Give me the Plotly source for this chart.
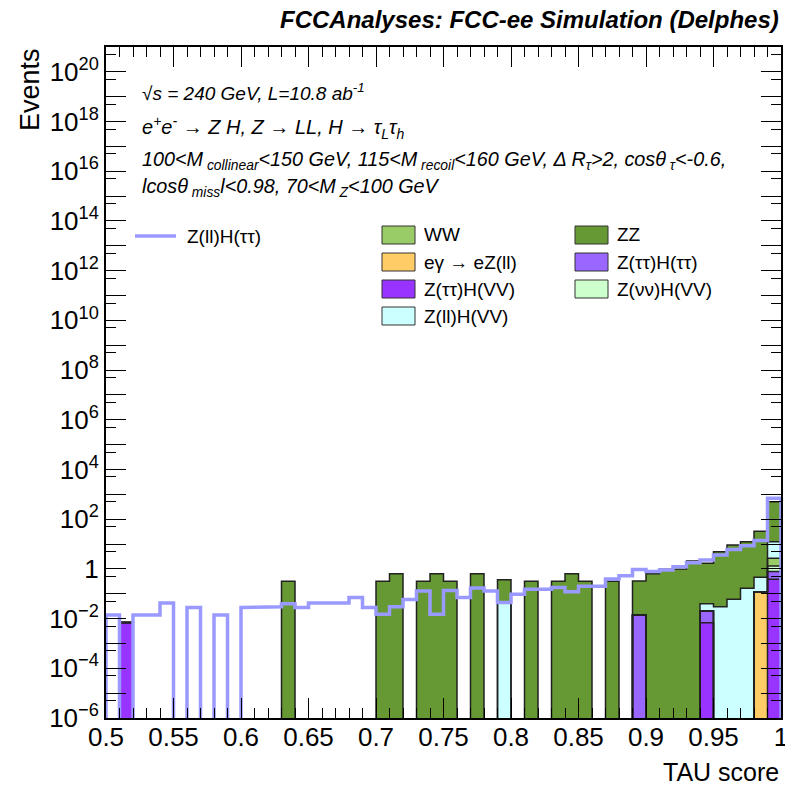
import numpy as np
import plotly.graph_objects as go

# ---------------- data ----------------
bin_edges = [round(0.50 + 0.01 * i, 2) for i in range(51)]

def bins(d):
    arr = [0.0] * 50
    for k, v in d.items():
        arr[k] = v
    return arr

# background components (stack order bottom -> top)
egamma_eZll = bins({48: 0.12})
ztautau_hvv = bins({1: 0.007, 44: 0.0068, 49: 0.38})
ztautau_htautau = bins({39: 0.014, 44: 0.0136, 49: 0.40})
znunu_hvv = bins({49: 0.54})
ww = bins({49: 1.38})
zll_hvv = bins({29: 0.042, 44: 0.019, 45: 0.03, 46: 0.06, 47: 0.166, 48: 0.34, 49: 9.6})
zz = bins({13: 0.32, 20: 0.32, 21: 0.64, 23: 0.32, 24: 0.64, 25: 0.32, 27: 0.64,
           29: 0.32, 31: 0.32, 33: 0.32, 34: 0.64, 35: 0.32, 37: 0.32, 39: 0.31,
           40: 0.64, 41: 0.96, 42: 1.0, 43: 2.1, 44: 1.66, 45: 4.87, 46: 9.0,
           47: 12.1, 48: 32.5, 49: 488})

# signal Z(ll)H(tautau)
signal = [0.014, 0, 0.014, 0.014, 0.042, 0, 0.028, 0, 0.014, 0,
          0.028, 0.028, 0.03, 0.04, 0.028, 0.042, 0.042, 0.042, 0.07, 0.028,
          0.015, 0.03, 0.058, 0.13, 0.015, 0.135, 0.07, 0.17, 0.13, 0.044,
          0.095, 0.15, 0.15, 0.18, 0.12, 0.2, 0.2, 0.39, 0.53, 0.95,
          0.78, 0.9, 1.22, 1.78, 2.3, 3.6, 6.0, 8.5, 14.0, 690]

stack = [
    ("eγ → eZ(ll)", egamma_eZll, "#ffcc66"),
    ("Z(ττ)H(VV)", ztautau_hvv, "#9933ff"),
    ("Z(ττ)H(ττ)", ztautau_htautau, "#9966ff"),
    ("Z(νν)H(VV)", znunu_hvv, "#ccffcc"),
    ("WW", ww, "#99cc66"),
    ("Z(ll)H(VV)", zll_hvv, "#ccffff"),
    ("ZZ", zz, "#669933"),
]

legend_col1 = ["WW", "eγ → eZ(ll)", "Z(ττ)H(VV)", "Z(ll)H(VV)"]
legend_col2 = ["ZZ", "Z(ττ)H(ττ)", "Z(νν)H(VV)"]

x_tick_vals = [0.5, 0.55, 0.6, 0.65, 0.7, 0.75, 0.8, 0.85, 0.9, 0.95, 1.0]
x_tick_text = ["0.5", "0.55", "0.6", "0.65", "0.7", "0.75", "0.8", "0.85", "0.9", "0.95", "1"]
y_tick_exps = list(range(-6, 21))

# ---------------- figure ----------------
W, H = 785, 787
ML, MR, MT, MB = 106, 4, 47, 69
PW, PH = W - ML - MR, H - MT - MB

def px(x):
    return (x - ML) / PW

def py(y):
    return 1 - (y - MT) / PH

FONT = "Liberation Sans"
centers = [(bin_edges[i] + bin_edges[i + 1]) / 2 for i in range(50)]
TINY = 1e-9

def step_xy(vals):
    xs = [bin_edges[0]]
    ys = [TINY]
    for i, v in enumerate(vals):
        vv = v if v > 0 else TINY
        xs += [bin_edges[i], bin_edges[i + 1]]
        ys += [vv, vv]
    xs.append(bin_edges[-1])
    ys.append(TINY)
    return xs, ys

fig = go.Figure()
colors = {}
for name, vals, col in stack:
    colors[name] = col
    fig.add_trace(go.Bar(x=centers, y=vals, width=0.01, name=name,
                         marker=dict(color=col, line=dict(width=0)),
                         showlegend=False, hoverinfo="skip"))

cum = np.zeros(50)
outlines = []
for name, vals, col in stack:
    cum = cum + np.array(vals)
    outlines.append(cum.copy())
for c in reversed(outlines):
    xs, ys = step_xy(list(c))
    fig.add_trace(go.Scatter(x=xs, y=ys, mode="lines",
                             line=dict(color="#222222", width=1.5),
                             showlegend=False, hoverinfo="skip"))

xs, ys = step_xy(signal)
fig.add_trace(go.Scatter(x=xs, y=ys, mode="lines", name="Z(ll)H(ττ)",
                         line=dict(color="#9999ff", width=3.5),
                         showlegend=False, hoverinfo="skip"))

def ylab(k):
    if k % 2:
        return ""
    if k == 0:
        return "1"
    return "10<sup>%s</sup>" % (str(k) if k > 0 else "−" + str(-k))

fig.update_layout(
    width=W, height=H,
    margin=dict(l=ML, r=MR, t=MT, b=MB, autoexpand=False),
    paper_bgcolor="white", plot_bgcolor="white",
    barmode="stack", bargap=0,
    font=dict(family=FONT, color="black", size=26),
    xaxis=dict(range=[0.5, 1.0], showgrid=False, zeroline=False, automargin=False,
               showline=True, linecolor="black", linewidth=2, mirror="ticks",
               ticks="inside", ticklen=20, tickcolor="black", tickwidth=1.2,
               tickvals=x_tick_vals, ticktext=x_tick_text,
               tickfont=dict(size=26), ticklabeloverflow="allow", ticklabelstandoff=-5,
               minor=dict(ticks="inside", ticklen=10, tickcolor="black", tickwidth=1.2,
                          tickvals=bin_edges)),
    yaxis=dict(type="log", range=[-6, 21], showgrid=False, zeroline=False, automargin=False,
               showline=True, linecolor="black", linewidth=2, mirror="ticks",
               ticks="inside", ticklen=20, tickcolor="black", tickwidth=1.2,
               tickvals=[10.0 ** k for k in y_tick_exps],
               ticktext=[ylab(k) for k in y_tick_exps],
               tickfont=dict(size=26), ticklabeloverflow="allow",
               minor=dict(ticks="inside", ticklen=10, tickcolor="black", tickwidth=1.2,
                          tickvals=[5 * 10.0 ** k for k in range(-7, 21)])),
)

ann = []
ann.append(dict(text="<b><i>FCCAnalyses: FCC-ee Simulation (Delphes)</i></b>",
                x=1.0, y=py(20), xanchor="right", yanchor="middle", font=dict(size=24)))
ann.append(dict(text="Events", textangle=-90, x=px(30), y=py(90),
                xanchor="center", yanchor="middle", font=dict(size=27)))
ann.append(dict(text="TAU score", x=1.0, y=py(772), xanchor="right",
                yanchor="middle", font=dict(size=25)))
ann.append(dict(text="<i>√s = 240 GeV, L=10.8 ab<sup>-1</sup></i>", x=px(140), y=py(92),
                xanchor="left", yanchor="middle", font=dict(size=19)))
ann.append(dict(text="<i>e<sup>+</sup>e<sup>-</sup> → Z H, Z → LL, H → τ<sub>L</sub>τ<sub>h</sub></i>",
                x=px(140), y=py(127), xanchor="left", yanchor="middle", font=dict(size=20)))
ann.append(dict(text="<i>100&lt;M<sub> collinear</sub>&lt;150 GeV, 115&lt;M<sub> recoil</sub>&lt;160 GeV, Δ R<sub>τ</sub>&gt;2, cosθ<sub> τ</sub>&lt;-0.6,</i>",
                x=px(140), y=py(160), xanchor="left", yanchor="middle", font=dict(size=19.8)))
ann.append(dict(text="<i>lcosθ<sub> miss</sub>l&lt;0.98, 70&lt;M<sub> Z</sub>&lt;100 GeV</i>",
                x=px(140), y=py(187), xanchor="left", yanchor="middle", font=dict(size=19.8)))

shapes = []
# signal legend entry
shapes.append(dict(type="line", xref="paper", yref="paper", x0=px(135), x1=px(176),
                   y0=py(236), y1=py(236), line=dict(color="#9999ff", width=3.5)))
ann.append(dict(text="Z(ll)H(ττ)", x=px(185), y=py(236), xanchor="left",
                yanchor="middle", font=dict(size=19)))

rows = [235, 262, 289, 316]
for col_items, bx in ((legend_col1, 382), (legend_col2, 575)):
    for r, name in enumerate(col_items):
        yc = rows[r]
        shapes.append(dict(type="rect", xref="paper", yref="paper",
                           x0=px(bx), x1=px(bx + 33), y0=py(yc + 9), y1=py(yc - 9),
                           fillcolor=colors[name], line=dict(color="#333333", width=1)))
        ann.append(dict(text=name, x=px(bx + 40), y=py(yc), xanchor="left",
                        yanchor="middle", font=dict(size=19)))

for a in ann:
    a.setdefault("xref", "paper")
    a.setdefault("yref", "paper")
    a["showarrow"] = False
fig.update_layout(annotations=ann, shapes=shapes)

fig.write_html("out.html", config={"displayModeBar": False},
               post_script="document.body.style.margin='0';document.body.style.overflow='hidden';")
